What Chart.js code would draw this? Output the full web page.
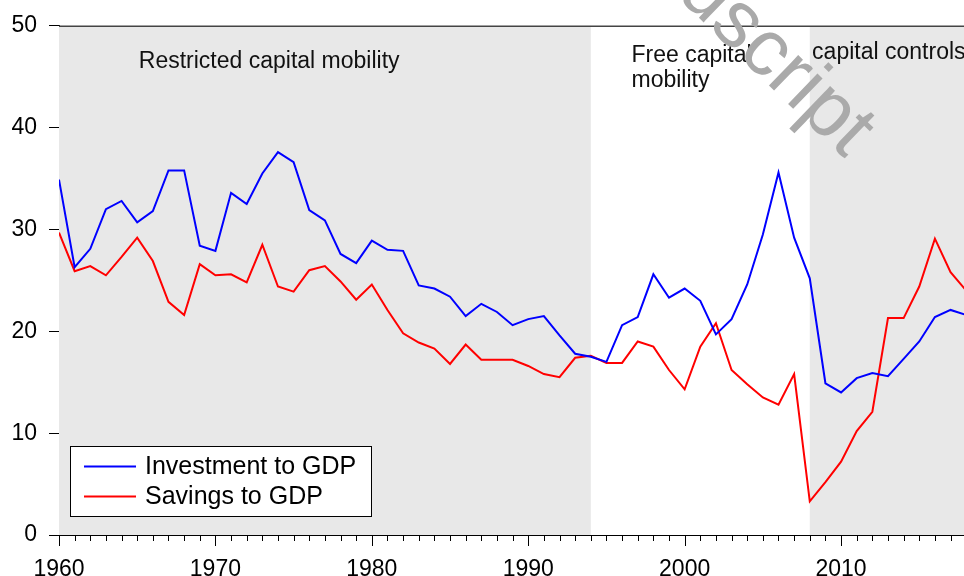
<!DOCTYPE html>
<html>
<head>
<meta charset="utf-8">
<script src="https://cdn.jsdelivr.net/npm/chart.js@4.4.1/dist/chart.umd.min.js"></script>
<style>
  body { margin: 0; background: #fff; }
  #wrap { width: 964px; height: 576px; }
</style>
</head>
<body>
<div id="wrap"><canvas id="gdpChart" width="964" height="576"></canvas></div>
<script>
// years 1960 - 2018
var years = [];
for (var yr = 1960; yr <= 2018; yr++) years.push(yr);

var investment = [
    34.9, 26.3, 28.1, 32.0, 32.8, 30.7, 31.8, 35.8, 35.8, 28.4,
    27.9, 33.6, 32.5, 35.5, 37.6, 36.6, 31.9, 30.9, 27.6, 26.7,
    28.9, 28.0, 27.9, 24.5, 24.2, 23.4, 21.5, 22.7, 21.9, 20.6,
    21.2, 21.5, 19.6, 17.8, 17.5, 17.0, 20.6, 21.4, 25.6, 23.3,
    24.2, 23.0, 19.7, 21.2, 24.6, 29.5, 35.6, 29.2, 25.2, 14.9,
    14.0, 15.4, 15.9, 15.6, 17.3, 19.0, 21.4, 22.1, 21.6
];
var savings = [
    29.7, 25.9, 26.4, 25.5, 27.3, 29.2, 26.9, 22.9, 21.6, 26.6,
    25.5, 25.6, 24.8, 28.5, 24.4, 23.9, 26.0, 26.4, 24.9, 23.1,
    24.6, 22.1, 19.8, 18.9, 18.3, 16.8, 18.7, 17.2, 17.2, 17.2,
    16.6, 15.8, 15.5, 17.4, 17.6, 16.9, 16.9, 19.0, 18.5, 16.2,
    14.3, 18.5, 20.8, 16.2, 14.8, 13.5, 12.8, 15.8, 3.3, 5.2,
    7.2, 10.2, 12.1, 21.3, 21.3, 24.4, 29.1, 25.8, 24.0
];

var yTicks = [0, 10, 20, 30, 40, 50];
var xTicks = [1960, 1970, 1980, 1990, 2000, 2010];

// shaded periods (restricted mobility, capital controls)
var shadeStart = [1960, 2008];
var shadeEnd = [1994, 2018];

var seriesNames = ['Investment to GDP', 'Savings to GDP'];
var periodLabels = ['Restricted capital mobility', 'Free capital\nmobility', 'capital controls'];

var FONT = '"Liberation Sans", Arial, sans-serif';

function toPoints(vals) {
    return years.map(function (y, i) { return { x: y, y: vals[i] }; });
}

// grey bands, top frame line, period labels
var bandsPlugin = {
    id: 'bands',
    beforeDatasetsDraw: function (chart) {
        var ctx = chart.ctx, a = chart.chartArea, xs = chart.scales.x, ys = chart.scales.y;
        ctx.save();
        ctx.beginPath();
        ctx.rect(a.left, a.top, a.right - a.left, a.bottom - a.top);
        ctx.clip();
        ctx.fillStyle = '#e8e8e8';
        for (var i = 0; i < shadeStart.length; i++) {
            var x0 = xs.getPixelForValue(shadeStart[i]);
            var x1 = xs.getPixelForValue(shadeEnd[i]);
            ctx.fillRect(x0, a.top, x1 - x0, a.bottom - a.top);
        }
        ctx.restore();

        ctx.save();
        ctx.strokeStyle = '#444';
        ctx.lineWidth = 1.5;
        ctx.beginPath();
        ctx.moveTo(a.left, a.top + 0.5);
        ctx.lineTo(a.right, a.top + 0.5);
        ctx.stroke();

        ctx.fillStyle = '#111';
        ctx.font = '23px ' + FONT;
        ctx.textBaseline = 'alphabetic';
        ctx.fillText(periodLabels[0], xs.getPixelForValue(1965.1), ys.getPixelForValue(45.9));
        var fl = periodLabels[1].split('\n');
        ctx.fillText(fl[0], xs.getPixelForValue(1996.6), ys.getPixelForValue(46.4));
        ctx.fillText(fl[1], xs.getPixelForValue(1996.6), ys.getPixelForValue(44.0));
        ctx.fillText(periodLabels[2], xs.getPixelForValue(2008.15), ys.getPixelForValue(46.7));
        ctx.restore();
    }
};

// yearly minor ticks, decade ticks longer
var ticksPlugin = {
    id: 'minorTicks',
    afterDraw: function (chart) {
        var ctx = chart.ctx, a = chart.chartArea, xs = chart.scales.x;
        ctx.save();
        ctx.strokeStyle = '#000';
        ctx.lineWidth = 1;
        ctx.beginPath();
        years.forEach(function (y) {
            var px = Math.round(xs.getPixelForValue(y)) + 0.5;
            if (px > a.right + 1) return;
            var len = (y % 10 === 0) ? 11 : 6;
            ctx.moveTo(px, a.bottom);
            ctx.lineTo(px, a.bottom + len);
        });
        ctx.stroke();
        ctx.restore();
    }
};

// boxed legend inside the plot, bottom left
var legendBox = {
    id: 'legendBox',
    afterDatasetsDraw: function (chart) {
        var ctx = chart.ctx;
        ctx.save();
        ctx.fillStyle = '#fff';
        ctx.fillRect(70.5, 446.5, 301, 70);
        ctx.strokeStyle = '#000';
        ctx.lineWidth = 1;
        ctx.strokeRect(70.5, 446.5, 301, 70);
        ctx.font = '25px ' + FONT;
        ctx.textBaseline = 'middle';
        chart.data.datasets.forEach(function (ds, i) {
            var y = 466.5 + i * 30;
            ctx.strokeStyle = ds.borderColor;
            ctx.lineWidth = 2;
            ctx.beginPath();
            ctx.moveTo(84, y);
            ctx.lineTo(136, y);
            ctx.stroke();
            ctx.fillStyle = '#000';
            ctx.fillText(ds.label, 145, y + 1);
        });
        ctx.restore();
    }
};

// diagonal watermark
var watermark = {
    id: 'watermark',
    afterDraw: function (chart) {
        var ctx = chart.ctx;
        ctx.save();
        ctx.translate(845, 159);
        ctx.rotate(44 * Math.PI / 180);
        ctx.font = '80px ' + FONT;
        ctx.fillStyle = '#aaaaaa';
        ctx.textAlign = 'right';
        ctx.textBaseline = 'alphabetic';
        ctx.fillText('Manuscript', 0, 0);
        ctx.restore();
    }
};

var ctx = document.getElementById('gdpChart').getContext('2d');
new Chart(ctx, {
    type: 'line',
    data: {
        datasets: [
            {
                label: seriesNames[0],
                data: toPoints(investment),
                borderColor: '#0000ff',
                borderWidth: 2,
                pointRadius: 0,
                fill: false,
                tension: 0
            },
            {
                label: seriesNames[1],
                data: toPoints(savings),
                borderColor: '#ff0000',
                borderWidth: 2,
                pointRadius: 0,
                fill: false,
                tension: 0
            }
        ]
    },
    options: {
        responsive: false,
        animation: false,
        layout: { padding: { top: 23, right: 0, left: 0, bottom: 0 } },
        scales: {
            x: {
                type: 'linear',
                min: 1960,
                max: 2017.86,
                afterBuildTicks: function (scale) {
                    scale.ticks = xTicks.map(function (v) { return { value: v }; });
                },
                afterFit: function (scale) { scale.height = 41; },
                grid: { drawOnChartArea: false, drawTicks: false },
                border: { color: '#000', width: 1 },
                ticks: {
                    font: { family: FONT, size: 23 },
                    color: '#000',
                    padding: 21,
                    maxRotation: 0,
                    autoSkip: false,
                    callback: function (v) { return String(v); }
                }
            },
            y: {
                min: 0,
                max: 50,
                afterBuildTicks: function (scale) {
                    scale.ticks = yTicks.map(function (v) { return { value: v }; });
                },
                afterFit: function (scale) { scale.width = 59; },
                grid: { drawOnChartArea: false, drawTicks: true, tickLength: 10, tickColor: '#000' },
                border: { color: '#000', width: 1 },
                ticks: {
                    font: { family: FONT, size: 23 },
                    color: '#000',
                    padding: 12
                }
            }
        },
        plugins: {
            legend: { display: false },
            tooltip: { enabled: false }
        }
    },
    plugins: [bandsPlugin, ticksPlugin, legendBox, watermark]
});
</script>
</body>
</html>
